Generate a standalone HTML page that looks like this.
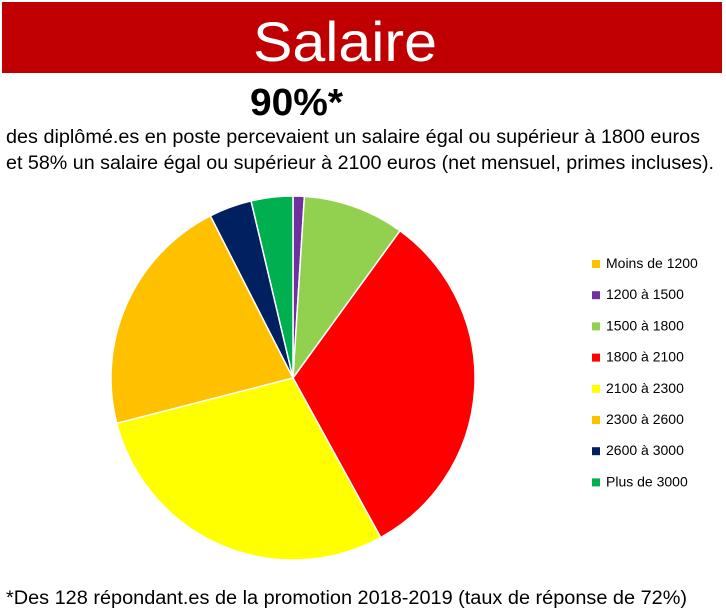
<!DOCTYPE html>
<html><head><meta charset="utf-8"><style>
html,body{margin:0;padding:0;background:#fff}
svg{display:block;font-family:"Liberation Sans",sans-serif}
</style></head><body>
<svg id="chart" width="726" height="611" viewBox="0 0 726 611">
<rect x="2" y="2" width="720" height="71" fill="#C00000"/>
<text x="345" y="61" text-anchor="middle" font-size="56" fill="#fff" textLength="184" lengthAdjust="spacingAndGlyphs">Salaire</text>
<text x="250" y="115" font-size="38" font-weight="bold" fill="#000" textLength="93" lengthAdjust="spacingAndGlyphs">90%*</text>
<text x="6" y="143" font-size="19" fill="#000" textLength="694" lengthAdjust="spacingAndGlyphs">des diplômé.es en poste percevaient un salaire égal ou supérieur à 1800 euros</text>
<text x="6" y="169" font-size="19" fill="#000" textLength="708" lengthAdjust="spacingAndGlyphs">et 58% un salaire égal ou supérieur à 2100 euros (net mensuel, primes incluses).</text>
<g id="pie"></g>
<g id="legend"></g>
<text x="6" y="604" font-size="19" fill="#000" textLength="681" lengthAdjust="spacingAndGlyphs">*Des 128 répondant.es de la promotion 2018-2019 (taux de réponse de 72%)</text>
</svg>
<script>
const categories = ["Moins de 1200","1200 à 1500","1500 à 1800","1800 à 2100","2100 à 2300","2300 à 2600","2600 à 3000","Plus de 3000"];
const values = [0, 1, 9, 32, 29, 21.5, 3.8, 3.7];
const colors = ["#FFC000","#7030A0","#92D050","#FF0000","#FFFF00","#FFC000","#002060","#00B050"];
const NS = "http://www.w3.org/2000/svg";
const cx = 293, cy = 378, r = 182;
const total = values.reduce((a,b)=>a+b,0);
function angleOf(v){ return v/total*2*Math.PI; }
function pt(a){ return [cx + r*Math.sin(a), cy - r*Math.cos(a)]; }
const pie = document.getElementById('pie');
let acc = 0;
values.forEach((v,i)=>{
  const a0 = angleOf(acc), a1 = angleOf(acc+v);
  acc += v;
  if (v <= 0) return;
  const [x0,y0] = pt(a0), [x1,y1] = pt(a1);
  const large = (a1-a0) > Math.PI ? 1 : 0;
  const p = document.createElementNS(NS,'path');
  p.setAttribute('d', `M${cx},${cy} L${x0},${y0} A${r},${r} 0 ${large} 1 ${x1},${y1} Z`);
  p.setAttribute('fill', colors[i]);
  p.setAttribute('stroke', '#fff');
  p.setAttribute('stroke-width', '1.5');
  
  
  pie.appendChild(p);
});
const legend = document.getElementById('legend');
categories.forEach((c,i)=>{
  const y = 268 + i*31.2;
  const g = document.createElementNS(NS,'g');
  
  
  const s = document.createElementNS(NS,'rect');
  s.setAttribute('x', 592); s.setAttribute('y', y-8);
  s.setAttribute('width', 8); s.setAttribute('height', 8);
  s.setAttribute('fill', colors[i]);
  const t = document.createElementNS(NS,'text');
  t.setAttribute('x', 606); t.setAttribute('y', y);
  t.setAttribute('font-size', '14');
  t.setAttribute('fill', '#000');
  t.textContent = c;
  g.appendChild(s); g.appendChild(t);
  legend.appendChild(g);
});
</script>
</body></html>
